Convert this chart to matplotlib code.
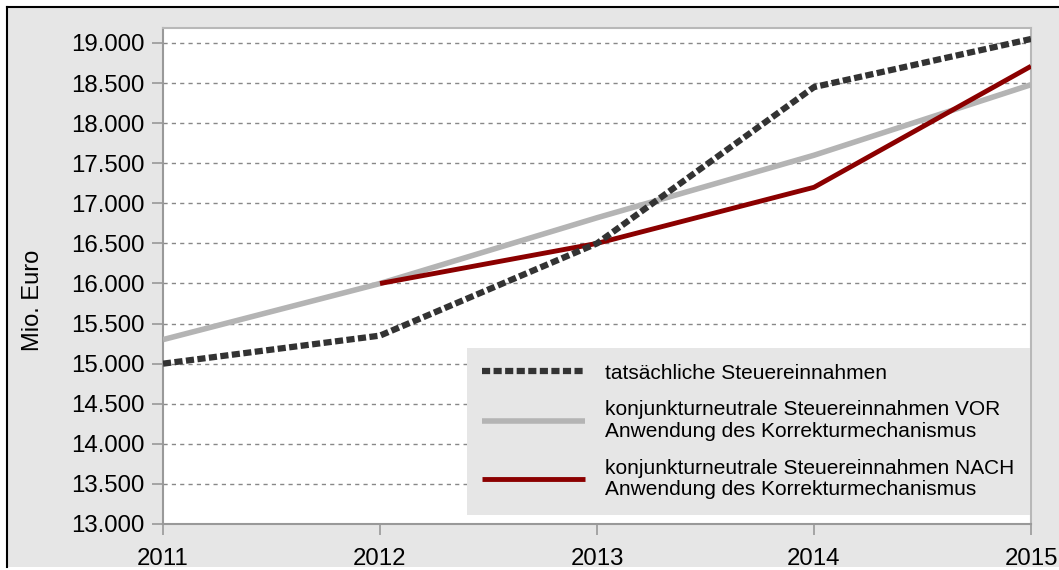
import matplotlib.pyplot as plt
from matplotlib.lines import Line2D

plt.rcParams['font.family'] = ['Liberation Sans', 'DejaVu Sans']

# Daten (Mio. Euro)
jahre = [2011, 2012, 2013, 2014, 2015]
tatsaechlich = [15000, 15350, 16500, 18450, 19050]
vor_korrektur = [15300, 16000, 16820, 17600, 18480]
jahre_nach = [2012, 2013, 2014, 2015]
nach_korrektur = [16000, 16500, 17200, 18710]
yticks = list(range(13000, 19001, 500))

label_tats = "tatsächliche Steuereinnahmen"
label_vor = "konjunkturneutrale Steuereinnahmen VOR\nAnwendung des Korrekturmechanismus"
label_nach = "konjunkturneutrale Steuereinnahmen NACH\nAnwendung des Korrekturmechanismus"

bg = "#e6e6e6"
fig = plt.figure(figsize=(10.59, 5.70), dpi=100, facecolor="white")

# grauer Hintergrund mit schwarzem Rand oben/links
fig.patches.append(plt.Rectangle((7 / 1059, 3 / 570), 1.0, 1 - 10 / 570,
                                 transform=fig.transFigure, facecolor=bg,
                                 edgecolor="none", zorder=-10))
fig.lines.append(Line2D([7 / 1059, 1.0], [1 - 7 / 570, 1 - 7 / 570],
                        transform=fig.transFigure, color="black", lw=1.5))
fig.lines.append(Line2D([7 / 1059, 7 / 1059], [3 / 570, 1 - 7 / 570],
                        transform=fig.transFigure, color="black", lw=1.5))

ax = fig.add_axes([163 / 1059, 1 - 524 / 570, 868 / 1059, 496 / 570])
ax.set_facecolor("white")

ax.plot(jahre, vor_korrektur, color="#b4b4b4", lw=4.0, solid_capstyle="butt",
        label=label_vor, zorder=3)
ax.plot(jahre_nach, nach_korrektur, color="#8b0000", lw=3.5, solid_capstyle="butt",
        label=label_nach, zorder=4)
ax.plot(jahre, tatsaechlich, color="#333333", lw=4.5, linestyle=(0, (1.3, 0.55)),
        dash_capstyle="butt", label=label_tats, zorder=5)

ax.set_xlim(2011, 2015)
ax.set_ylim(13000, 19187)
ax.set_xticks(jahre)
ax.set_yticks(yticks)
ax.set_yticklabels([f"{v:,}".replace(",", ".") for v in yticks])
ax.yaxis.grid(True, color="#888888", linestyle=(0, (3, 3)), lw=1.0)
ax.set_axisbelow(True)

for side in ["left", "bottom"]:
    ax.spines[side].set_color("#999999")
    ax.spines[side].set_linewidth(1.5)
for side in ["top", "right"]:
    ax.spines[side].set_color("#b8b8b8")
    ax.spines[side].set_linewidth(1.5)

ax.tick_params(axis="both", direction="out", length=8, width=1.2, color="#999999",
               labelsize=17.3, labelcolor="black")
ax.tick_params(axis="y", pad=5)
ax.tick_params(axis="x", pad=9)
ax.set_ylabel("Mio. Euro", fontsize=17)
ax.yaxis.set_label_coords(-0.137, 0.45)

handles, labels = ax.get_legend_handles_labels()
order = [2, 0, 1]
leg = ax.legend([handles[i] for i in order], [labels[i] for i in order],
                loc="upper left", bbox_to_anchor=(0.350, 0.355),
                fontsize=15, frameon=True, fancybox=False,
                handlelength=4.9, handletextpad=1.0, labelspacing=0.85,
                borderpad=0.75, borderaxespad=0)
for t in leg.get_texts():
    t.set_linespacing(1.17)
leg.get_frame().set_facecolor(bg)
leg.get_frame().set_edgecolor("none")
leg.get_frame().set_alpha(1)
leg.set_zorder(10)

fig.savefig("out.png", dpi=100, facecolor=fig.get_facecolor())
